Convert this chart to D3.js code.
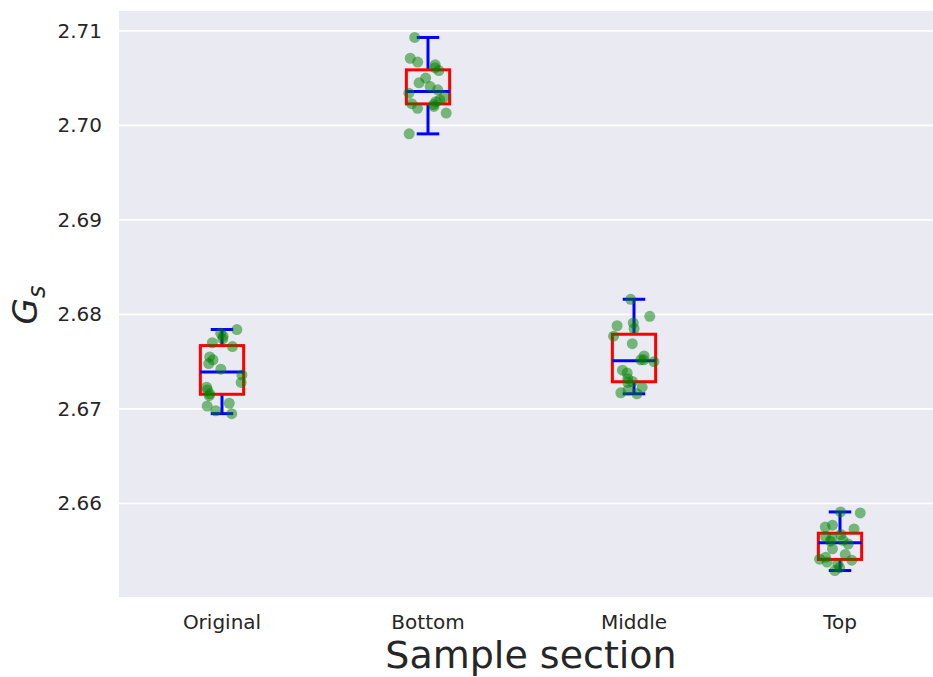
<!DOCTYPE html>
<html>
<head>
<meta charset="utf-8">
<script src="https://cdn.jsdelivr.net/npm/d3@7"></script>
<style>
  html, body { margin: 0; padding: 0; background: #ffffff; }
  svg { display: block; font-family: "DejaVu Sans", sans-serif; }
</style>
</head>
<body>
<svg id="chart" width="933" height="677"></svg>
<script>
// Sample sections and the measured specific gravity (Gs) in each
const sections = ["Original", "Bottom", "Middle", "Top"];

const originalGs = [2.6695, 2.6698, 2.6703, 2.6706, 2.6714, 2.6716, 2.6720, 2.6723, 2.6728, 2.6736,
                    2.6742, 2.6748, 2.6752, 2.6755, 2.6766, 2.6770, 2.6774, 2.6777, 2.6780, 2.6784];
const bottomGs   = [2.6991, 2.7013, 2.7018, 2.7020, 2.7022, 2.7023, 2.7025, 2.7027, 2.7030, 2.7034,
                    2.70376, 2.7041, 2.7045, 2.7050, 2.7058, 2.7061, 2.7064, 2.7067, 2.7071, 2.7093];
const middleGs   = [2.6716, 2.6717, 2.6720, 2.6723, 2.6728, 2.6729, 2.6732, 2.6738, 2.6741, 2.6750,
                    2.6752, 2.6752, 2.6756, 2.6769, 2.6777, 2.6785, 2.6788, 2.6791, 2.6798, 2.6816];
const topGs      = [2.6529, 2.6532, 2.6536, 2.6538, 2.6540, 2.6541, 2.6543, 2.6546, 2.6552, 2.6557,
                    2.6560, 2.6561, 2.6563, 2.6565, 2.6567, 2.6573, 2.6575, 2.6577, 2.6590, 2.6591];

const yTicks = [2.66, 2.67, 2.68, 2.69, 2.70, 2.71];

const groups = [originalGs, bottomGs, middleGs, topGs];

const svg = d3.select("#chart");
const plot = { left: 119, top: 11, right: 943, bottom: 597 };

const x = d3.scaleBand().domain(sections).range([plot.left, plot.right]);
const y = d3.scaleLinear().domain([2.6501, 2.7121]).range([plot.bottom, plot.top]);

// Plot background
svg.append("rect")
  .attr("x", plot.left).attr("y", plot.top)
  .attr("width", plot.right - plot.left).attr("height", plot.bottom - plot.top)
  .attr("fill", "#eaeaf2");

// Horizontal grid
svg.append("g").selectAll("line").data(yTicks).join("line")
  .attr("x1", plot.left).attr("x2", plot.right)
  .attr("y1", d => y(d)).attr("y2", d => y(d))
  .attr("stroke", "#ffffff").attr("stroke-width", 1.6);

// Y axis labels
const yAxis = d3.axisLeft(y).tickValues(yTicks).tickFormat(d3.format(".2f")).tickSize(0).tickPadding(17);
const gy = svg.append("g").attr("transform", `translate(${plot.left},0)`).call(yAxis);
gy.select(".domain").remove();
gy.selectAll("text").attr("font-size", 20).attr("fill", "#262626").attr("font-family", "DejaVu Sans");

// X axis labels
const xAxis = d3.axisBottom(x).tickSize(0).tickPadding(18);
const gx = svg.append("g").attr("transform", `translate(0,${plot.bottom})`).call(xAxis);
gx.select(".domain").remove();
gx.selectAll("text").attr("font-size", 20).attr("fill", "#262626").attr("font-family", "DejaVu Sans");

// Box summaries computed from each section's measurements
const stats = groups.map((vals, i) => {
  const s = vals.slice().sort(d3.ascending);
  const q1 = d3.quantile(s, 0.25), med = d3.quantile(s, 0.5), q3 = d3.quantile(s, 0.75);
  const iqr = q3 - q1;
  const lo = d3.min(s.filter(v => v >= q1 - 1.5 * iqr));
  const hi = d3.max(s.filter(v => v <= q3 + 1.5 * iqr));
  return { key: sections[i], q1, med, q3, lo, hi };
});

const boxW = x.bandwidth() * 0.21;
const capW = boxW * 0.52;
const boxes = svg.append("g").selectAll("g").data(stats).join("g");

boxes.append("line")
  .attr("x1", d => x(d.key) + x.bandwidth() / 2).attr("x2", d => x(d.key) + x.bandwidth() / 2)
  .attr("y1", d => y(d.q3)).attr("y2", d => y(d.hi))
  .attr("stroke", "#0000ff").attr("stroke-width", 3);
boxes.append("line")
  .attr("x1", d => x(d.key) + x.bandwidth() / 2).attr("x2", d => x(d.key) + x.bandwidth() / 2)
  .attr("y1", d => y(d.q1)).attr("y2", d => y(d.lo))
  .attr("stroke", "#0000ff").attr("stroke-width", 3);
["hi", "lo"].forEach(k => {
  boxes.append("line")
    .attr("x1", d => x(d.key) + x.bandwidth() / 2 - capW / 2)
    .attr("x2", d => x(d.key) + x.bandwidth() / 2 + capW / 2)
    .attr("y1", d => y(d[k])).attr("y2", d => y(d[k]))
    .attr("stroke", "#0000ff").attr("stroke-width", 3);
});
boxes.append("rect")
  .attr("x", d => x(d.key) + x.bandwidth() / 2 - boxW / 2)
  .attr("y", d => y(d.q3))
  .attr("width", boxW)
  .attr("height", d => y(d.q1) - y(d.q3))
  .attr("fill", "none").attr("stroke", "#ff0000").attr("stroke-width", 3);
boxes.append("line")
  .attr("x1", d => x(d.key) + x.bandwidth() / 2 - boxW / 2)
  .attr("x2", d => x(d.key) + x.bandwidth() / 2 + boxW / 2)
  .attr("y1", d => y(d.med)).attr("y2", d => y(d.med))
  .attr("stroke", "#0000ff").attr("stroke-width", 3);

// Individual measurements, spread horizontally with a seeded jitter
const rand = d3.randomUniform.source(d3.randomLcg(0.42))(-0.1, 0.1);
const pts = [];
groups.forEach((vals, i) => vals.forEach(v => pts.push({ key: sections[i], v, j: rand() })));
svg.append("g").selectAll("circle").data(pts).join("circle")
  .attr("cx", d => x(d.key) + x.bandwidth() * (0.5 + d.j))
  .attr("cy", d => y(d.v))
  .attr("r", 5.5)
  .attr("fill", "#008000").attr("fill-opacity", 0.5);

// Axis titles
svg.append("text")
  .attr("x", 531).attr("y", 668)
  .attr("text-anchor", "middle").attr("font-size", 38).attr("fill", "#262626")
  .text("Sample section");

const yl = svg.append("text")
  .attr("transform", "translate(37,305) rotate(-90)")
  .attr("text-anchor", "middle").attr("font-size", 34).attr("fill", "#262626")
  .attr("font-style", "italic");
yl.append("tspan").text("G");
yl.append("tspan").attr("font-size", 24).attr("dy", 8).text("s");
</script>
</body>
</html>
